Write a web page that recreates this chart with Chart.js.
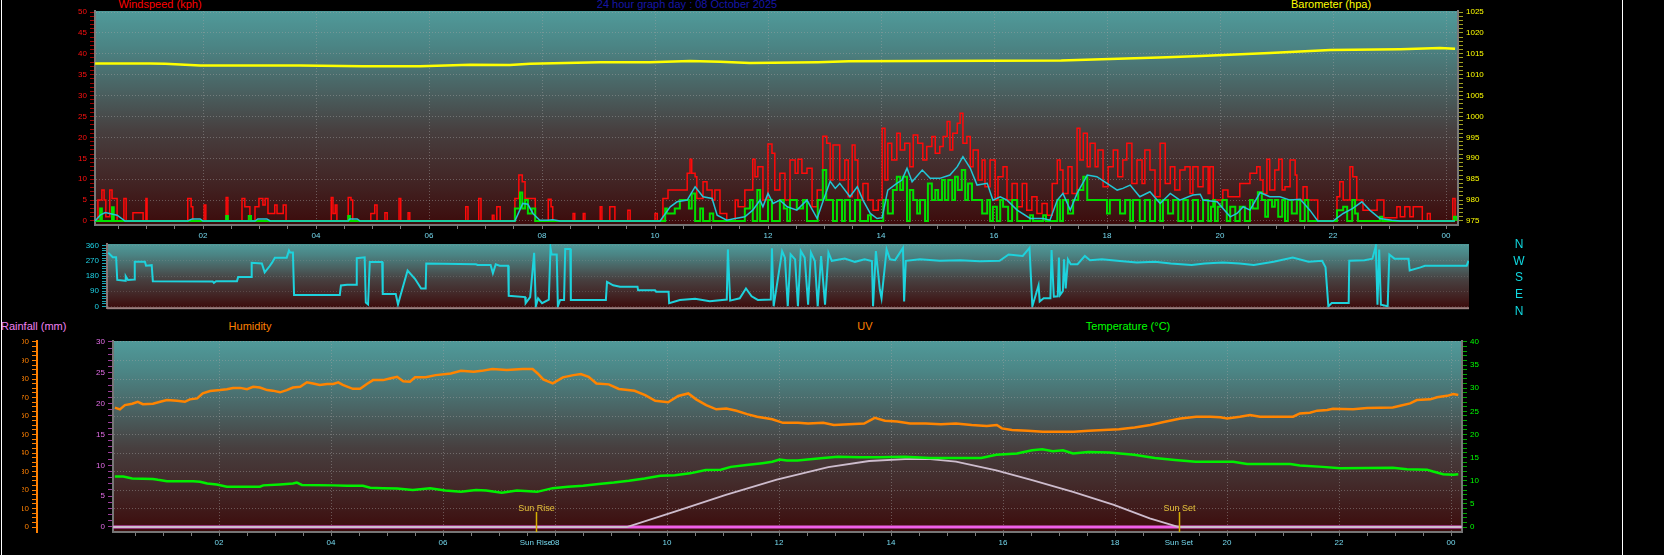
<!DOCTYPE html>
<html>
<head>
<meta charset="utf-8">
<script src="https://cdn.jsdelivr.net/npm/chart.js@4.4.1/dist/chart.umd.min.js"></script>
<style>
  html, body { margin: 0; padding: 0; background: #000; width: 1664px; height: 555px; overflow: hidden; }
  body { font-family: "Liberation Sans", Arial, sans-serif; position: relative; }
  canvas { position: absolute; }
  .t { position: absolute; font-size: 11px; line-height: 13px; white-space: nowrap; }
  .c { transform: translateX(-50%); }
  .nwse { position: absolute; font-size: 12px; line-height: 14px; color: #10d8e0; transform: translateX(-50%); }
  .vl { position: absolute; top: 0; width: 1px; height: 555px; background: #fff; }
</style>
</head>
<body>
<div class="vl" style="left:1px"></div>
<div class="vl" style="left:1622px"></div>

<div class="t c" style="left:160px;top:-2px;color:#ff0000">Windspeed (kph)</div>
<div class="t c" style="left:687px;top:-2px;color:#1616a8">24 hour graph day : 08 October 2025</div>
<div class="t c" style="left:1331px;top:-2px;color:#ffff00">Barometer (hpa)</div>

<canvas id="windChart" style="left:0;top:0" width="1620" height="245"></canvas>
<canvas id="dirChart" style="left:0;top:236px" width="1620" height="80"></canvas>

<div class="nwse" style="left:1519px;top:237px">N</div>
<div class="nwse" style="left:1519px;top:254px">W</div>
<div class="nwse" style="left:1519px;top:270px">S</div>
<div class="nwse" style="left:1519px;top:287px">E</div>
<div class="nwse" style="left:1519px;top:304px">N</div>

<div class="t" style="left:1px;top:320px;color:#f080f0">Rainfall (mm)</div>
<div class="t c" style="left:250px;top:320px;color:#ff8000">Humidity</div>
<div class="t c" style="left:865px;top:320px;color:#ff8000">UV</div>
<div class="t c" style="left:1128px;top:320px;color:#00ff00">Temperature (°C)</div>

<canvas id="climateChart" style="left:22px;top:330px" width="1598" height="225"></canvas>

<script>
// ---- axis ticks / labels ----
const hourTicks = [2, 4, 6, 8, 10, 12, 14, 16, 18, 20, 22, 24];
const hourLabels = ['02', '04', '06', '08', '10', '12', '14', '16', '18', '20', '22', '00'];
const windTicks = [0, 5, 10, 15, 20, 25, 30, 35, 40, 45, 50];
const baroTicks = [975, 980, 985, 990, 995, 1000, 1005, 1010, 1015, 1020, 1025];
const dirTicks = [0, 90, 180, 270, 360];
const uvTicks = [0, 5, 10, 15, 20, 25, 30];
const tempTicks = [0, 5, 10, 15, 20, 25, 30, 35, 40];
const rainTicks = [0, 10, 20, 30, 40, 50, 60, 70, 80, 90, 100];
const sunRise = 7.66;
const sunSet = 19.14;

// ---- series: [hour, value] ----
const baroHpa = [[0.09,1012.7],[1.06,1012.7],[1.33,1012.6],[1.95,1012.2],[3.72,1012.2],[4.83,1012.0],[5.84,1012.0],[6.73,1012.4],[7.43,1012.3],[7.79,1012.6],[9.03,1013.0],[9.91,1013.0],[10.62,1013.3],[11.15,1013.1],[11.68,1012.8],[12.88,1013.0],[13.43,1013.2],[17.19,1013.4],[19.06,1014.2],[19.65,1014.5],[20.88,1015.2],[21.95,1015.9],[23.19,1016.1],[23.89,1016.4],[24.16,1016.2]];

const gustKph = [[0.09,0],[0.14,5],[0.21,7.4],[0.25,5],[0.28,1],[0.35,7.4],[0.39,5.4],[0.44,5.4],[0.48,0],[0.60,5.4],[0.64,0],[0.76,2],[0.88,2],[0.94,0],[0.99,5.4],[1.01,0],[1.73,5.4],[1.79,3.4],[1.82,0],[2.02,3.8],[2.05,0],[2.41,5.6],[2.44,0],[2.69,5.4],[2.74,3.4],[2.80,3.4],[2.83,0],[2.92,3.4],[2.99,5.4],[3.06,3.8],[3.10,5.4],[3.15,1.8],[3.27,3.8],[3.31,1.8],[3.42,3.8],[3.47,0],[4.27,5.6],[4.30,1.8],[4.34,3.8],[4.37,0],[4.57,5.6],[4.62,5],[4.65,0],[4.97,1.8],[5.04,3.8],[5.08,0],[5.22,2],[5.26,0],[5.47,5.4],[5.50,0],[5.63,2],[5.66,0],[6.65,3.4],[6.69,0],[6.88,5.4],[6.92,0],[7.12,1.4],[7.15,0],[7.20,3.4],[7.26,0],[7.52,5.4],[7.59,11],[7.65,9.4],[7.70,5.4],[7.84,5.4],[7.88,0],[8.11,5.2],[8.16,3.4],[8.19,0],[8.55,1.8],[8.58,0],[8.73,1.8],[8.76,0],[9.03,3.4],[9.06,0],[9.20,3.4],[9.26,3.4],[9.29,0],[9.52,2.6],[9.56,0],[10.00,1.8],[10.04,0],[10.14,5.4],[10.23,7.4],[10.44,7.4],[10.57,11.4],[10.62,14.8],[10.65,11.4],[10.71,10.6],[10.74,5.4],[10.85,9.4],[10.92,7.4],[11.01,5],[11.06,7.4],[11.15,1.8],[11.27,0],[11.42,5],[11.47,3.4],[11.59,7.4],[11.73,14.8],[11.77,10.6],[11.82,13],[11.91,5],[12.00,18.4],[12.07,16.2],[12.12,7.4],[12.21,11.4],[12.30,5],[12.39,14.6],[12.48,11.4],[12.53,14.8],[12.60,11.4],[12.69,12.6],[12.78,3.4],[12.87,7.4],[12.97,20.3],[13.04,18.6],[13.10,9.8],[13.15,18.2],[13.22,18.2],[13.27,9.8],[13.36,14.6],[13.42,5.8],[13.49,18.2],[13.54,14.6],[13.59,5],[13.68,9],[13.77,5],[13.86,2.6],[13.95,5],[14.02,22.2],[14.07,9.8],[14.12,18.6],[14.19,14.6],[14.28,21],[14.34,17],[14.42,18.6],[14.51,13],[14.57,20.6],[14.65,18.6],[14.74,14.6],[14.81,17.8],[14.90,20.2],[14.96,16.2],[15.04,17.8],[15.10,20.2],[15.17,23.8],[15.22,17],[15.27,21],[15.35,23.4],[15.40,25.8],[15.45,18.6],[15.52,20.2],[15.58,13],[15.63,17],[15.72,9.8],[15.79,14.6],[15.84,8.2],[15.93,14.6],[16.02,5],[16.07,10.6],[16.16,13],[16.23,5],[16.32,9],[16.41,3.4],[16.50,9],[16.58,2.6],[16.67,5.8],[16.76,1.8],[16.85,4.2],[16.94,1.4],[17.03,9],[17.12,14.6],[17.17,12.2],[17.22,6.6],[17.31,13],[17.38,6.6],[17.47,22.2],[17.52,14.6],[17.58,21],[17.65,13],[17.70,18.6],[17.79,13],[17.84,17],[17.93,8.2],[18.02,13],[18.11,17],[18.19,10.6],[18.28,14.6],[18.35,18.6],[18.44,9],[18.53,14.6],[18.62,9],[18.67,17],[18.76,12.2],[18.85,5.8],[18.94,18.6],[19.03,9],[19.12,13],[19.20,7.4],[19.29,12.2],[19.38,13],[19.47,6.6],[19.52,13],[19.61,8.2],[19.70,13],[19.79,6.6],[19.82,13],[19.88,5],[19.96,5],[20.05,7.4],[20.14,5.8],[20.30,5.8],[20.35,9],[20.48,9],[20.53,11.4],[20.65,13],[20.71,9.8],[20.76,6.6],[20.83,14.8],[20.88,7.4],[20.97,12.2],[21.04,14.8],[21.10,7.4],[21.15,8.2],[21.24,14.6],[21.33,11],[21.36,5],[21.47,8.2],[21.54,5],[21.68,5],[21.73,0],[22.04,0],[22.07,5.8],[22.12,9.4],[22.18,5],[22.30,13],[22.35,10.6],[22.42,5],[22.53,2.6],[22.65,2.6],[22.78,5],[22.87,5],[22.90,0.8],[23.13,3.4],[23.19,1],[23.27,3.4],[23.36,1],[23.42,3.4],[23.50,3.4],[23.58,0],[23.67,1.8],[23.72,0],[24.11,0],[24.12,5.4],[24.16,0]];

const speedKph = [[0.09,0],[0.18,3],[0.21,0],[0.39,3.3],[0.42,0],[2.41,1.2],[2.44,0],[2.81,1.2],[2.85,0],[4.57,1.2],[4.60,0],[7.52,3],[7.61,6.8],[7.65,3],[7.70,5],[7.75,1.8],[7.82,3],[7.88,0],[10.18,3],[10.21,1.8],[10.32,1.8],[10.35,3],[10.44,5],[10.57,5],[10.60,3],[10.65,6.6],[10.71,0],[10.80,3],[10.85,0],[10.97,1.8],[11.03,0],[11.59,3],[11.68,5],[11.73,0],[11.81,7.4],[11.86,0],[12.00,5],[12.07,0],[12.21,5],[12.28,3],[12.34,0],[12.39,5],[12.51,3],[12.62,5],[12.69,0],[12.88,5],[12.97,12.2],[13.03,5],[13.10,5],[13.15,0],[13.22,5],[13.31,0],[13.36,5],[13.45,0],[13.54,5],[13.63,0],[13.77,1.4],[13.82,0],[14.04,5],[14.12,1.8],[14.21,7.4],[14.28,10.6],[14.34,7.4],[14.39,10.6],[14.46,0],[14.51,7.4],[14.57,5],[14.64,1.8],[14.69,5],[14.78,0],[14.83,9],[14.90,5],[14.96,7.4],[15.01,5],[15.08,9.8],[15.13,5],[15.19,9.8],[15.26,5],[15.31,10.6],[15.36,7.4],[15.43,12.2],[15.49,5],[15.54,9],[15.61,5],[15.70,5],[15.79,1.8],[15.88,5],[15.93,0],[15.98,3.4],[16.05,0],[16.11,5],[16.16,3.4],[16.25,0],[16.32,5],[16.41,0],[16.64,1.4],[16.69,0],[16.87,1.4],[16.92,0],[17.12,5],[17.17,0],[17.22,5],[17.31,1.8],[17.40,5],[17.49,7.4],[17.58,10.6],[17.65,5],[17.88,5],[18.00,1.8],[18.05,5],[18.18,5],[18.23,1.8],[18.32,5],[18.41,0],[18.46,5],[18.58,0],[18.67,5],[18.76,0],[18.85,5],[18.94,0],[18.99,5],[19.08,1.8],[19.17,5],[19.26,0],[19.35,5],[19.43,0],[19.52,5],[19.61,0],[19.70,5],[19.79,0],[19.84,3.4],[19.88,5],[19.91,0],[19.96,3.4],[20.04,5],[20.12,0],[20.18,3.4],[20.27,0],[20.35,3.4],[20.44,0],[20.53,5],[20.58,3],[20.67,6.9],[20.74,5],[20.80,1],[20.85,5],[20.92,3.4],[20.97,5],[21.03,1],[21.10,5],[21.15,0],[21.20,5],[21.27,1.8],[21.36,5],[21.42,0],[21.50,5],[21.56,0],[22.07,2.6],[22.12,2.6],[22.18,3.4],[22.25,0],[22.34,5],[22.39,1.8],[22.44,0],[22.83,1],[22.87,0],[24.14,1],[24.18,0]];

const avgKph = [[0.09,0],[0.18,1.4],[0.27,2],[0.48,1.4],[0.62,0],[1.73,0],[1.81,0.5],[1.95,0.5],[2.00,0],[2.92,0],[2.97,0.5],[3.13,0.5],[3.19,0],[4.57,0],[4.60,0.5],[4.73,0.5],[4.78,0],[7.52,0],[7.66,4.2],[7.75,4],[7.84,1.8],[7.96,0.2],[8.11,0.2],[8.19,0.3],[8.32,0],[10.09,0],[10.27,3.4],[10.39,4.6],[10.57,5],[10.71,8.2],[10.85,5.8],[11.01,5.4],[11.10,1.4],[11.27,0.2],[11.42,0.6],[11.59,1],[11.73,2.6],[11.86,5],[11.91,3.4],[12.00,6.6],[12.09,4.2],[12.21,5],[12.34,3.4],[12.51,2.6],[12.69,5],[12.87,0.6],[12.96,4.2],[13.10,9.5],[13.19,7.8],[13.27,9],[13.45,5.8],[13.58,8.2],[13.68,5],[13.81,1.8],[13.93,0.6],[14.02,0.8],[14.12,7.4],[14.28,9],[14.37,9.8],[14.46,12.6],[14.55,9.4],[14.73,12.2],[14.87,10.2],[15.04,10.2],[15.22,11],[15.35,13],[15.45,15.4],[15.58,12.6],[15.70,8.6],[15.88,9],[15.98,5],[16.11,5.8],[16.23,5],[16.41,2.6],[16.64,0.6],[16.87,0.6],[16.99,0.2],[17.12,5],[17.22,6.6],[17.35,2.6],[17.47,6.6],[17.65,11],[17.82,10.6],[18.00,9],[18.18,7.4],[18.28,7.8],[18.41,8.6],[18.58,5.8],[18.76,7],[18.94,4.2],[19.12,6.6],[19.29,5],[19.52,6.2],[19.65,6.4],[19.70,5],[19.95,4.6],[20.18,1],[20.30,1.8],[20.41,3.4],[20.53,2.6],[20.71,6.8],[20.88,5.8],[21.06,5.8],[21.24,5],[21.42,5.2],[21.59,2.6],[21.73,0],[22.00,0],[22.18,1.8],[22.35,3],[22.51,4.6],[22.65,2.6],[22.83,0.6],[23.04,0.2],[23.19,0],[24.16,0]];

const dirDeg = [[0.11,320],[0.19,292],[0.25,292],[0.27,157],[0.41,152],[0.42,180],[0.46,157],[0.57,160],[0.58,265],[0.76,265],[0.78,242],[0.88,245],[0.90,150],[1.96,148],[1.98,140],[2.02,150],[2.39,150],[2.41,174],[2.64,174],[2.65,259],[2.83,255],[2.88,202],[2.97,240],[3.01,260],[3.06,290],[3.27,290],[3.31,332],[3.33,320],[3.38,320],[3.40,67],[4.21,67],[4.23,124],[4.34,128],[4.50,128],[4.51,287],[4.65,292],[4.67,22],[4.71,11],[4.74,264],[4.96,264],[4.97,73],[5.20,73],[5.24,11],[5.27,48],[5.41,213],[5.54,164],[5.65,106],[5.73,106],[5.74,255],[6.62,250],[6.65,246],[6.88,246],[6.92,197],[6.97,250],[7.04,242],[7.19,242],[7.20,63],[7.49,55],[7.50,19],[7.58,55],[7.65,319],[7.68,0],[7.72,48],[7.79,19],[7.91,40],[7.94,348],[7.96,309],[8.05,309],[8.07,0],[8.11,38],[8.18,38],[8.20,342],[8.29,342],[8.30,38],[8.92,38],[8.94,145],[9.05,125],[9.17,116],[9.48,116],[9.49,96],[9.79,96],[9.81,87],[10.03,87],[10.04,19],[10.23,38],[10.50,45],[10.76,30],[11.06,40],[11.08,339],[11.12,34],[11.29,48],[11.40,106],[11.50,60],[11.61,38],[11.84,40],[11.86,346],[11.89,0],[12.04,329],[12.09,290],[12.14,0],[12.19,310],[12.27,280],[12.32,0],[12.37,330],[12.44,290],[12.50,10],[12.55,320],[12.62,270],[12.67,0],[12.73,300],[12.80,10],[12.86,320],[12.92,271],[13.15,285],[13.33,265],[13.50,280],[13.63,270],[13.65,0],[13.70,329],[13.77,100],[13.80,48],[13.89,339],[13.95,280],[14.04,275],[14.18,348],[14.20,29],[14.23,271],[14.48,280],[14.83,271],[15.19,275],[15.54,268],[15.89,271],[16.05,309],[16.30,300],[16.42,348],[16.47,0],[16.58,125],[16.60,29],[16.67,48],[16.79,48],[16.81,335],[16.85,58],[16.92,60],[16.94,290],[16.96,67],[17.01,90],[17.03,280],[17.06,106],[17.10,280],[17.15,251],[17.27,251],[17.40,300],[17.49,275],[17.70,280],[18.02,270],[18.32,261],[18.64,265],[18.92,255],[19.29,246],[19.52,255],[19.84,261],[20.14,255],[20.39,246],[20.74,265],[21.08,290],[21.36,265],[21.60,271],[21.66,232],[21.71,0],[21.77,19],[22.07,19],[22.08,271],[22.35,275],[22.49,284],[22.55,358],[22.58,9],[22.61,339],[22.64,9],[22.76,0],[22.79,309],[22.88,284],[23.13,284],[23.15,213],[23.34,232],[23.42,242],[24.16,242],[24.19,271]];

const humidityPct = [[0.14,64.5],[0.23,63.6],[0.32,65.9],[0.45,66.6],[0.55,67.7],[0.64,66.4],[0.82,66.6],[0.95,67.7],[1.07,68.6],[1.25,68.2],[1.39,67.7],[1.48,69.0],[1.61,69.5],[1.71,72.2],[1.84,73.5],[2.02,74.0],[2.14,74.5],[2.25,75.1],[2.38,75.2],[2.50,74.5],[2.61,75.8],[2.73,75.4],[2.86,74.0],[2.96,73.7],[3.09,72.8],[3.21,74.0],[3.32,75.4],[3.45,75.8],[3.57,78.2],[3.68,77.6],[3.80,76.8],[3.93,77.3],[4.04,77.3],[4.13,78.2],[4.21,76.8],[4.39,74.7],[4.52,74.7],[4.64,77.3],[4.75,79.4],[4.93,79.4],[5.05,80.3],[5.18,81.2],[5.29,78.8],[5.41,78.5],[5.50,80.9],[5.69,80.9],[5.87,82.1],[6.14,83.0],[6.32,84.4],[6.55,83.9],[6.69,84.4],[6.88,85.4],[7.14,84.8],[7.42,85.4],[7.60,85.4],[7.69,83.0],[7.79,79.8],[7.96,77.6],[8.14,80.9],[8.33,82.1],[8.46,82.7],[8.60,81.2],[8.74,77.6],[8.96,77.1],[9.14,74.6],[9.42,73.6],[9.61,71.3],[9.79,68.2],[10.02,67.4],[10.20,70.8],[10.38,72.2],[10.52,69.0],[10.70,65.9],[10.88,63.6],[11.06,64.1],[11.24,62.8],[11.43,61.0],[11.61,59.6],[11.88,58.2],[12.07,56.3],[12.34,56.3],[12.52,55.9],[12.79,56.3],[12.98,55.1],[13.25,55.6],[13.52,55.9],[13.71,59.0],[13.89,57.4],[14.11,57.0],[14.34,55.9],[14.62,55.9],[14.89,55.6],[15.16,55.9],[15.44,55.1],[15.71,54.6],[15.89,55.1],[15.98,53.3],[16.16,52.4],[16.44,52.0],[16.71,51.5],[16.98,51.5],[17.26,51.5],[17.53,52.0],[17.80,52.4],[18.07,52.8],[18.35,53.8],[18.63,55.1],[18.89,56.9],[19.17,58.7],[19.45,59.6],[19.70,59.6],[19.88,59.3],[20.00,58.7],[20.23,59.6],[20.41,60.5],[20.59,59.6],[21.18,59.6],[21.30,61.4],[21.48,61.8],[21.61,62.9],[21.79,63.2],[21.89,63.9],[22.25,63.7],[22.50,64.3],[22.96,64.6],[23.09,65.5],[23.27,66.8],[23.39,68.6],[23.63,69.0],[23.75,70.1],[23.93,70.9],[24.04,71.9],[24.13,71.3]];

const temperatureC = [[0.14,10.9],[0.29,10.9],[0.45,10.5],[0.82,10.4],[0.91,10.2],[1.07,9.9],[1.43,9.9],[1.54,9.9],[1.66,9.8],[1.79,9.4],[1.96,9.2],[2.14,8.7],[2.73,8.7],[2.79,9.0],[3.09,9.2],[3.32,9.4],[3.39,9.6],[3.48,9.1],[4.04,9.0],[4.29,8.9],[4.57,8.9],[4.70,8.5],[4.93,8.4],[5.18,8.3],[5.46,8.0],[5.77,8.4],[6.04,7.9],[6.32,7.6],[6.59,8.0],[6.77,7.9],[7.05,7.4],[7.32,7.9],[7.68,7.6],[7.96,8.4],[8.23,8.7],[8.50,8.9],[8.78,9.3],[9.05,9.6],[9.32,10.0],[9.60,10.5],[9.88,11.1],[10.14,11.2],[10.41,11.6],[10.69,12.3],[10.96,12.4],[11.14,13.0],[11.42,13.4],[11.70,13.8],[11.88,14.1],[12.01,14.6],[12.14,14.4],[12.33,14.4],[12.51,14.6],[12.79,14.9],[13.05,15.2],[13.43,15.1],[13.79,15.1],[14.24,15.2],[14.70,14.9],[15.61,14.9],[15.88,15.6],[16.25,15.9],[16.52,16.6],[16.70,16.8],[16.89,16.4],[17.07,16.6],[17.25,15.9],[17.52,16.2],[17.89,16.1],[18.34,15.6],[18.71,14.9],[19.07,14.5],[19.44,14.1],[19.80,14.1],[20.11,14.1],[20.36,13.6],[21.13,13.6],[21.30,13.3],[21.71,13.0],[22.02,12.7],[22.96,12.8],[23.21,12.5],[23.57,12.4],[23.68,12.0],[23.86,11.4],[24.04,11.3],[24.13,11.4]];

const uvIndex = [[0.11,0],[9.28,0],[10.14,2.5],[11.05,5.2],[11.96,7.7],[12.88,9.7],[13.61,10.7],[14.25,11.0],[14.70,11.0],[15.16,10.6],[15.88,9.2],[16.52,7.6],[17.25,5.7],[17.98,3.6],[18.62,1.4],[19.14,0],[24.19,0]];

const rainMm = [[0.11,0],[24.19,0]];

// ---- helpers ----
const FONT = '"Liberation Sans", Arial, sans-serif';
const GRID = 'rgba(165,165,165,0.45)';
const bgStops = [[0, '#509a9a'], [0.16, '#4b8585'], [0.36, '#4a6363'], [0.56, '#473f3f'], [0.76, '#432929'], [1, '#3c0b0b']];

function steps(lo, hi, step) {
  const out = [];
  for (let v = lo; v <= hi + 1e-9; v += step) out.push(+v.toFixed(2));
  return out;
}
const pts = arr => arr.map(([x, y]) => ({ x, y }));

function yAxis(o) {
  const major = new Set(o.major);
  return {
    type: 'linear', position: o.pos, min: o.min, max: o.max, weight: o.weight || 0, display: o.display !== false,
    afterBuildTicks: s => { s.ticks = steps(o.major[0], o.major[o.major.length - 1], o.step).map(v => ({ value: v })); },
    afterFit: s => { s.width = o.width; },
    ticks: { autoSkip: false, color: o.label, font: { family: FONT, size: 8 }, padding: 3,
             callback: v => major.has(v) ? String(v) : '' },
    grid: { drawOnChartArea: !!o.grid, lineWidth: 1,
            color: c => (o.grid && c.tick && major.has(c.tick.value)) ? o.grid : 'transparent',
            tickColor: o.tick, tickLength: 5 },
    border: { display: !!o.border, color: o.border || '#777', width: o.borderWidth || 2, dash: [1, 2] }
  };
}

function xAxis(min, max, height, extra) {
  const labels = new Map(hourTicks.map((h, i) => [h, hourLabels[i]]));
  extra.forEach(([v, l]) => labels.set(v, l));
  const extraVals = new Set(extra.map(e => e[0]));
  return {
    type: 'linear', min, max,
    afterBuildTicks: s => {
      const t = steps(0.5, 24, 0.5).concat(extra.map(e => e[0])).filter(v => v >= min && v <= max);
      t.sort((a, b) => a - b);
      s.ticks = t.map(v => ({ value: v }));
    },
    afterFit: s => { s.height = height; },
    ticks: { autoSkip: false, maxRotation: 0, minRotation: 0, color: '#74d8ee', padding: 2,
             font: { family: FONT, size: 8 }, callback: v => labels.get(v) || '' },
    grid: { lineWidth: 1,
            color: c => (c.tick && hourTicks.includes(c.tick.value)) ? GRID : 'transparent',
            tickColor: c => (c.tick && extraVals.has(c.tick.value)) ? 'transparent' : '#7c7c7c',
            tickLength: 4 },
    border: { display: true, color: '#767676', width: 2, dash: [1, 2] }
  };
}

const plotBg = {
  id: 'plotBg',
  beforeDraw(chart, args, opts) {
    const { ctx, chartArea: a } = chart;
    const g = ctx.createLinearGradient(0, a.top, 0, a.bottom);
    bgStops.forEach(([p, c]) => g.addColorStop(p, c));
    ctx.save();
    ctx.fillStyle = g;
    ctx.fillRect(a.left, a.top, a.right - a.left, a.bottom - a.top);
    if (opts && opts.frame) {
      ctx.strokeStyle = opts.frame;
      ctx.lineWidth = 2;
      ctx.strokeRect(a.left, a.top, a.right - a.left, a.bottom - a.top);
    }
    ctx.restore();
  }
};

const sunMarks = {
  id: 'sunMarks',
  afterDatasetsDraw(chart) {
    const { ctx, chartArea: a, scales: { x } } = chart;
    ctx.save();
    ctx.strokeStyle = '#d6b000';
    ctx.fillStyle = '#e6c23a';
    ctx.lineWidth = 1.5;
    ctx.font = '9px ' + FONT;
    ctx.textAlign = 'center';
    [[sunRise, 'Sun Rise'], [sunSet, 'Sun Set']].forEach(([v, t]) => {
      const px = Math.round(x.getPixelForValue(v)) + 0.5;
      ctx.beginPath();
      ctx.moveTo(px, a.bottom);
      ctx.lineTo(px, a.bottom - 20);
      ctx.stroke();
      ctx.fillText(t, px, a.bottom - 21);
    });
    ctx.restore();
  }
};

const base = {
  responsive: false,
  animation: false,
  events: [],
  plugins: { legend: { display: false }, tooltip: { enabled: false } },
  elements: { point: { radius: 0 }, line: { tension: 0 } }
};

// ---- top: windspeed + barometer ----
new Chart(document.getElementById('windChart'), {
  type: 'line',
  data: {
    datasets: [
      { data: pts(baroHpa), yAxisID: 'yB', borderColor: '#ffff00', borderWidth: 2.5 },
      { data: pts(avgKph), yAxisID: 'y', borderColor: '#22c6d6', borderWidth: 1.5 },
      { data: pts(speedKph), yAxisID: 'y', borderColor: '#00e000', borderWidth: 2, stepped: true },
      { data: pts(gustKph), yAxisID: 'y', borderColor: '#ff0a0a', borderWidth: 1.5, stepped: true }
    ]
  },
  options: {
    ...base,
    layout: { padding: { top: 11, left: 0, right: 0, bottom: 0 } },
    scales: {
      x: xAxis(0.0885, 24.212, 20, []),
      y: yAxis({ pos: 'left', min: -0.957, max: 50.24, major: windTicks, step: 1, width: 95,
                 label: '#ff1010', tick: '#a00000', grid: GRID, border: '#7a7a7a' }),
      yB: yAxis({ pos: 'right', min: 974.04, max: 1025.24, major: baroTicks, step: 1, width: 162,
                  label: '#ffff00', tick: '#a0a020', border: '#7a7a7a' })
    }
  },
  plugins: [plotBg]
});

// ---- middle: wind direction ----
new Chart(document.getElementById('dirChart'), {
  type: 'line',
  data: {
    datasets: [
      { data: pts(dirDeg), borderColor: '#1ed2dc', borderWidth: 2 }
    ]
  },
  options: {
    ...base,
    layout: { padding: { top: 8, left: 0, right: 151, bottom: 4 } },
    plugins: { ...base.plugins, plotBg: { frame: null } },
    scales: {
      x: { type: 'linear', min: 0.0885, max: 24.2, display: false },
      y: yAxis({ pos: 'left', min: -11.25, max: 371.25, major: dirTicks, step: 15, width: 107,
                 label: '#1ed2e6', tick: '#1aa6b4', grid: 'rgba(160,160,160,0.25)', border: '#8a7474' })
    }
  },
  plugins: [plotBg, {
    id: 'dirBottom',
    afterDraw(chart) {
      const { ctx, chartArea: a } = chart;
      ctx.save();
      ctx.fillStyle = '#9c8080';
      ctx.fillRect(a.left, a.bottom - 1, a.right - a.left, 2);
      ctx.restore();
    }
  }]
});

// ---- bottom: humidity / UV / temperature / rainfall ----
new Chart(document.getElementById('climateChart'), {
  type: 'line',
  data: {
    datasets: [
      { data: pts(temperatureC), yAxisID: 'yT', borderColor: '#00f000', borderWidth: 2.5 },
      { data: pts(humidityPct), yAxisID: 'yHum', borderColor: '#ff8400', borderWidth: 2.5 },
      { data: pts(uvIndex), yAxisID: 'y', borderColor: '#cdbccd', borderWidth: 1.8 },
      { data: pts(rainMm), yAxisID: 'yRain', borderColor: '#f060e8', borderWidth: 3 }
    ]
  },
  options: {
    ...base,
    layout: { padding: { top: 11, left: 0, right: 0, bottom: 0 } },
    scales: {
      x: xAxis(0.107, 24.196, 23, [[sunRise, 'Sun Rise'], [sunSet, 'Sun Set']]),
      yRain: yAxis({ pos: 'left', weight: 1, min: -2.70, max: 100.54, major: rainTicks, step: 2.5, width: 15,
                     label: '#ff8000', tick: '#ff8000', grid: GRID, border: '#ff8000', borderWidth: 2 }),
      y: yAxis({ pos: 'left', weight: 0, min: -0.811, max: 30.162, major: uvTicks, step: 1, width: 76,
                 label: '#e46ee8', tick: '#9a3c9a', border: '#767676' }),
      yT: yAxis({ pos: 'right', min: -1.081, max: 40.216, major: tempTicks, step: 1, width: 158,
                  label: '#00ff00', tick: '#00a800', border: '#767676' }),
      yHum: { type: 'linear', display: false, min: -2.70, max: 100.54 }
    }
  },
  plugins: [plotBg, sunMarks]
});
</script>
</body>
</html>
